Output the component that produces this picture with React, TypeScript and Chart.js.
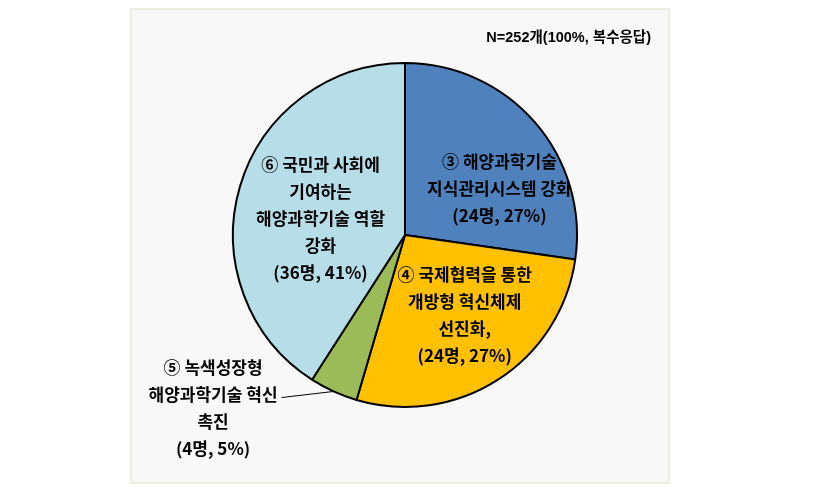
import React, { useEffect, useRef } from "react";
import { Chart, registerables } from "chart.js";

Chart.register(...registerables);

const categories = [
  "③ 해양과학기술 지식관리시스템 강화",
  "④ 국제협력을 통한 개방형 혁신체제 선진화",
  "⑤ 녹색성장형 해양과학기술 혁신 촉진",
  "⑥ 국민과 사회에 기여하는 해양과학기술 역할 강화",
];
const counts = [24, 24, 4, 36];
const percents = ["27%", "27%", "5%", "41%"];
const labelLines = [
  ["③ 해양과학기술", "지식관리시스템 강화"],
  ["④ 국제협력을 통한", "개방형 혁신체제", "선진화,"],
  ["⑤ 녹색성장형", "해양과학기술 혁신", "촉진"],
  ["⑥ 국민과 사회에", "기여하는", "해양과학기술 역할", "강화"],
];
const noteText = "N=252개(100%, 복수응답)";

const colors = ["#4F81BD", "#FFC000", "#9BBB59", "#B7DEE8"];
// label block centre relative to pie centre, in units of radius
const labelPlace = [
  [0.549, -0.269],
  [0.347, 0.468],
  [-1.116, 1.006],
  [-0.491, -0.098],
];
const outsideLabel = [false, false, true, false];

const LABEL_FONT = "bold 17px 'Noto Sans CJK KR', sans-serif";

const labelPlugin = {
  id: "pieLabels",
  afterDraw(chart: any) {
    const ctx = chart.ctx;
    const meta = chart.getDatasetMeta(0);
    const lineH = 27;
    ctx.save();
    ctx.textAlign = "center";
    ctx.textBaseline = "middle";
    ctx.fillStyle = "#000";
    meta.data.forEach((arc: any, i: number) => {
      const cx = arc.x;
      const cy = arc.y;
      const r = arc.outerRadius;
      const lines = [...labelLines[i], `(${counts[i]}명, ${percents[i]})`];
      const bx = cx + labelPlace[i][0] * r;
      const by = cy + labelPlace[i][1] * r;
      const top = by - ((lines.length - 1) * lineH) / 2;
      ctx.font = LABEL_FONT;
      lines.forEach((t, k) => {
        ctx.fillText(t, bx, top + k * lineH);
      });
      if (outsideLabel[i]) {
        const mid = (arc.startAngle + arc.endAngle) / 2;
        const ex = cx + Math.cos(mid) * r;
        const ey = cy + Math.sin(mid) * r;
        const w = ctx.measureText(lines[1]).width;
        const sx = bx + w / 2 + 4;
        const sy = top + lineH + 3;
        ctx.beginPath();
        ctx.strokeStyle = "#000";
        ctx.lineWidth = 1;
        ctx.moveTo(sx, sy);
        ctx.lineTo(ex, ey);
        ctx.stroke();
      }
    });
    ctx.font = "bold 14.5px 'Liberation Sans', 'Noto Sans CJK KR', sans-serif";
    ctx.textAlign = "right";
    ctx.fillText(noteText, 651, 38);
    ctx.restore();
  },
};

export default function App() {
  const ref = useRef<HTMLCanvasElement>(null);
  useEffect(() => {
    document.body.style.margin = "0";
    const chart = new Chart(ref.current as HTMLCanvasElement, {
      type: "pie",
      data: {
        labels: categories,
        datasets: [
          {
            data: counts,
            backgroundColor: colors,
            borderColor: "#000",
            borderWidth: 2,
          },
        ],
      },
      options: {
        responsive: false,
        animation: false,
        layout: { padding: { left: 232, right: 240, top: 62, bottom: 79 } },
        plugins: {
          legend: { display: false },
          tooltip: { enabled: false },
        },
      },
      plugins: [labelPlugin],
    });
    return () => chart.destroy();
  }, []);
  return (
    <div style={{ position: "relative", width: 818, height: 487 }}>
      <div
        style={{
          position: "absolute",
          left: 130,
          top: 8,
          width: 536,
          height: 472,
          background: "#F8F8F8",
          border: "2px solid #EEEEE2",
        }}
      />
      <canvas
        ref={ref}
        width={818}
        height={487}
        style={{ position: "absolute", left: 0, top: 0 }}
      />
    </div>
  );
}
